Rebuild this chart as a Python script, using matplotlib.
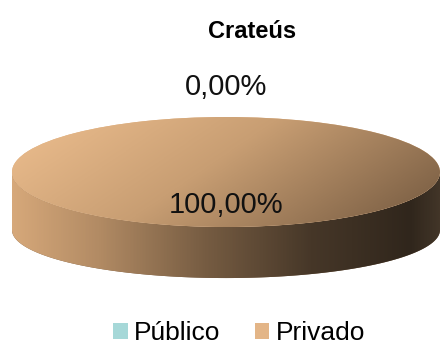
import numpy as np
import matplotlib
matplotlib.use('Agg')
import matplotlib.pyplot as plt
from matplotlib.colors import LinearSegmentedColormap
from matplotlib.path import Path
from matplotlib.patches import PathPatch

# ---- data ----
title = 'Crateús'
categories = ['Público', 'Privado']
values = [0.0, 100.0]
colors = ['#A6D8D8', '#E3B587']

plt.rcParams['font.family'] = ['Liberation Sans', 'DejaVu Sans']

W, H = 441, 349
fig = plt.figure(figsize=(W / 100, H / 100), dpi=100)

# ellipse geometry (pixels)
cx, cy = 226, 172
a, b = 214, 55
ylo = -1.95
yb, bb = -1.055, 0.873  # bottom ellipse center / semi-height (units of b)

ax = fig.add_axes([(cx - a) / W, 1 - (cy + b * (-ylo)) / H, 2 * a / W, b * (1 - ylo) / H])

total = sum(values)
pcts = [v / total * 100 for v in values]
fmt = lambda p: f'{p:.2f}%'.replace('.', ',')

wedges, texts, autotexts = ax.pie(
    values, colors=colors, startangle=90, counterclock=True,
    labels=[fmt(pcts[0]), ''], labeldistance=1.55,
    autopct=lambda p: fmt(p) if p > 0 else '', pctdistance=0.6,
    textprops=dict(fontsize=21, color='#111111'),
    wedgeprops=dict(linewidth=0))
for t in texts:
    t.set_ha('center')
    t.set_va('center')
for t in list(texts) + list(autotexts):
    t.set_zorder(5)

# side wall
t1 = np.linspace(np.pi, 2 * np.pi, 200)
xs = np.concatenate([np.cos(t1), np.cos(t1[::-1])])
ys = np.concatenate([yb + bb * np.sin(t1), np.sin(t1[::-1])])
verts = np.column_stack([xs, ys])
side = PathPatch(Path(np.vstack([verts, verts[:1]]), closed=True),
                 facecolor='#7a5f45', edgecolor='none', zorder=0.5)
ax.add_patch(side)

side_cmap = LinearSegmentedColormap.from_list('side', [
    (0.0, (214/255, 168/255, 122/255)),
    (0.2, (178/255, 139/255, 100/255)),
    (0.45, (118/255, 92/255, 66/255)),
    (0.7, (70/255, 55/255, 40/255)),
    (0.93, (48/255, 38/255, 28/255)),
    (1.0, (66/255, 53/255, 40/255)),
])
grad = np.linspace(0, 1, 400)[None, :]
im = ax.imshow(grad, cmap=side_cmap, extent=(-1, 1, ylo, 0.2), aspect='auto',
               zorder=0.6, origin='lower', interpolation='bilinear')
im.set_clip_path(side)

# top face gradient
top_cmap = LinearSegmentedColormap.from_list('top', [
    (0.0, (238/255, 191/255, 143/255)),
    (0.5, (200/255, 158/255, 115/255)),
    (1.0, (128/255, 99/255, 71/255)),
])
gx, gy = np.meshgrid(np.linspace(-1, 1, 300), np.linspace(-1, 1, 120))
g = np.clip(0.8 * (gx + 1) / 2 + 0.3 * (1 - gy) / 2, 0, 1)
im2 = ax.imshow(g, cmap=top_cmap, vmin=0, vmax=1, extent=(-1, 1, -1, 1),
                aspect='auto', origin='lower', zorder=1.5, interpolation='bilinear')
im2.set_clip_path(wedges[1])

ax.set_aspect('auto')
ax.set_xlim(-1, 1)
ax.set_ylim(ylo, 1)
ax.axis('off')

fig.text(252 / W, 1 - 32 / H, title, fontsize=17, fontweight='bold',
         ha='center', va='center')

fig.legend(wedges, categories, loc='upper left', bbox_to_anchor=(113 / W, 1 - 321 / H),
           ncol=2, frameon=False, fontsize=19, handlelength=0.55, handleheight=0.55,
           handletextpad=0.25, columnspacing=1.3, borderpad=0, borderaxespad=0)

fig.savefig('out.png', dpi=100)
